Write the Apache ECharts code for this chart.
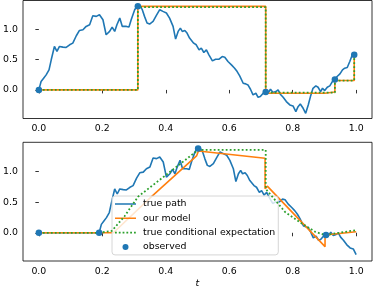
<!DOCTYPE html>
<html>
<head>
<meta charset="utf-8">
<script src="https://cdn.jsdelivr.net/npm/echarts@6/dist/echarts.min.js"></script>
<style>html,body{margin:0;padding:0;background:#fff}#c{width:374px;height:292px}</style>
</head>
<body>
<div id="c"></div>
<script>
// ---- data ----
const xTicks = [0, 0.2, 0.4, 0.6, 0.8, 1.0];
const yTicks = [0, 0.5, 1.0];
const seriesNames = ['true path', 'our model', 'true conditional expectation', 'observed'];

// top panel: true path
const topPathT = [0,0.007,0.015,0.023,0.032,0.039,0.049,0.057,0.065,0.076,0.086,0.097,0.107,0.118,0.128,0.139,0.149,0.160,0.170,0.181,0.191,0.202,0.212,0.223,0.231,0.239,0.246,0.255,0.263,0.276,0.284,0.291,0.302,0.309,0.318,0.326,0.333,0.341,0.349,0.360,0.370,0.381,0.391,0.402,0.412,0.423,0.431,0.439,0.446,0.452,0.460,0.467,0.475,0.481,0.488,0.496,0.505,0.512,0.520,0.528,0.536,0.547,0.557,0.568,0.578,0.586,0.596,0.607,0.617,0.625,0.633,0.644,0.652,0.659,0.667,0.675,0.684,0.691,0.698,0.707,0.715,0.722,0.730,0.738,0.747,0.754,0.761,0.770,0.780,0.791,0.801,0.810,0.817,0.824,0.833,0.841,0.849,0.856,0.864,0.873,0.880,0.888,0.894,0.901,0.909,0.917,0.925,0.933,0.940,0.949,0.957,0.964,0.972,0.980,0.988,0.996,1.0];
const topPathV = [0,0.137,0.192,0.247,0.330,0.495,0.714,0.632,0.714,0.703,0.698,0.742,0.769,0.890,0.978,0.989,1.044,1.071,1.220,1.209,1.236,1.154,0.907,0.962,1.033,0.962,1.071,1.181,1.044,1.044,1.033,1.154,1.319,1.374,1.385,1.319,1.209,1.099,1.082,1.126,1.220,1.319,1.291,1.264,1.181,1.044,0.835,0.962,1.016,0.962,0.978,0.934,0.852,0.879,0.769,0.742,0.659,0.687,0.615,0.659,0.577,0.478,0.505,0.505,0.549,0.538,0.467,0.412,0.357,0.302,0.231,0.110,0.099,0.082,0.011,-0.082,-0.055,-0.121,-0.110,-0.055,-0.027,-0.055,0.011,-0.044,-0.027,0,-0.071,-0.121,-0.192,-0.247,-0.264,-0.357,-0.275,-0.231,-0.302,-0.385,-0.247,-0.110,0.027,0.066,0.044,-0.027,0.027,-0.011,0.044,0.066,0.137,0.176,0.220,0.264,0.330,0.357,0.368,0.467,0.577,0.593,0.593];
// top panel: model / conditional expectation (forward-filled steps) and observations
const topModelT = [0, 0.312, 0.715, 0.901, 0.933, 0.994, 1.0];
const topModelV = [0, 1.374, -0.055, -0.033, 0.154, 0.55, 0.55];
const topCondT = [0, 0.312, 0.715, 0.933, 0.994, 1.0];
const topCondV = [0, 1.36, -0.044, 0.154, 0.56, 0.56];
const topObsT = [0, 0.312, 0.715, 0.933, 0.994];
const topObsV = [0, 1.374, -0.035, 0.17, 0.58];

// bottom panel: true path
const botPathT = [0,0.19,0.197,0.205,0.213,0.222,0.229,0.239,0.247,0.255,0.266,0.276,0.287,0.297,0.308,0.318,0.329,0.339,0.350,0.360,0.371,0.381,0.392,0.402,0.413,0.421,0.429,0.436,0.445,0.453,0.466,0.474,0.481,0.492,0.499,0.508,0.516,0.523,0.531,0.539,0.550,0.560,0.571,0.581,0.592,0.602,0.613,0.621,0.629,0.636,0.642,0.650,0.657,0.665,0.671,0.678,0.686,0.695,0.702,0.710,0.718,0.726,0.737,0.747,0.758,0.768,0.776,0.786,0.797,0.807,0.815,0.823,0.834,0.842,0.849,0.857,0.865,0.874,0.881,0.888,0.897,0.905,0.912,0.920,0.928,0.937,0.944,0.951,0.960,0.970,0.981,0.991,1.0];
const botPathV = [0,0,0.137,0.192,0.247,0.330,0.495,0.714,0.632,0.714,0.703,0.698,0.742,0.769,0.890,0.978,0.989,1.044,1.071,1.220,1.209,1.236,1.154,0.907,0.962,1.033,0.962,1.071,1.181,1.044,1.044,1.033,1.154,1.319,1.374,1.385,1.319,1.209,1.099,1.082,1.126,1.220,1.319,1.291,1.264,1.181,1.044,0.835,0.962,1.016,0.962,0.978,0.934,0.852,0.879,0.769,0.742,0.659,0.687,0.615,0.659,0.577,0.478,0.505,0.505,0.549,0.538,0.467,0.412,0.357,0.302,0.231,0.110,0.099,0.082,0.011,-0.082,-0.055,-0.121,-0.110,-0.055,-0.027,-0.055,0.011,-0.044,-0.027,0,-0.071,-0.121,-0.192,-0.247,-0.264,-0.357];
const botModelT = [0, 0.19, 0.235, 0.355, 0.497, 0.503, 0.713, 0.713, 0.72, 0.902, 0.902, 1.0];
const botModelV = [0, 0, 0, 0.59, 1.253, 1.334, 1.216, 0.716, 0.76, -0.226, -0.037, 0.016];
const botCondT = [0, 0.19, 0.23, 0.27, 0.313, 0.502, 0.715, 0.715, 0.776, 0.829, 0.871, 0.902, 1.0];
const botCondV = [0, 0, 0.03, 0.27, 0.59, 1.35, 1.35, 0.716, 0.339, 0.152, 0.016, -0.037, 0.044];
const botObsT = [0, 0.19, 0.502, 0.905];
const botObsV = [0, 0, 1.374, -0.035];

// ---- chart ----
const FONT = 'DejaVu Sans';
const FS = 9.4;
const BLUE = '#1f77b4', ORANGE = '#ff7f0e', GREEN = '#2ca02c';
const zip = (a, b) => a.map((t, i) => [t, b[i]]);

// legend icons (bounding box 21 x 6; tiny corner anchors keep the box)
const ANCH = 'M0,0h0.01v0.01h-0.01z M20.99,5.99h0.01v0.01h-0.01z ';
const ICON_LINE = 'path://' + ANCH + 'M0,2.25h21v1.5h-21z';
const ICON_DOT = 'path://' + ANCH + 'M0,2.1h1.8v1.8h-1.8z M3.8,2.1h1.8v1.8h-1.8z M7.6,2.1h1.8v1.8h-1.8z M11.4,2.1h1.8v1.8h-1.8z M15.2,2.1h1.8v1.8h-1.8z M19,2.1h1.8v1.8h-1.8z';

function xAxis(gi) {
  return {
    type: 'value', gridIndex: gi, min: -0.05, max: 1.05,
    axisLine: { show: false },
    splitLine: { show: false },
    axisTick: { show: true, length: 3.5, customValues: xTicks, lineStyle: { color: '#000', width: 0.8 } },
    axisLabel: { customValues: xTicks, margin: 6, color: '#000', fontFamily: FONT, fontSize: FS,
      formatter: v => v.toFixed(1) }
  };
}
function yAxis(gi, mn, mx) {
  return {
    type: 'value', gridIndex: gi, min: mn, max: mx,
    axisLine: { show: false },
    splitLine: { show: false },
    axisTick: { show: true, length: 3.5, customValues: yTicks, lineStyle: { color: '#000', width: 0.8 } },
    axisLabel: { customValues: yTicks, margin: 5, color: '#000', fontFamily: FONT, fontSize: FS,
      formatter: v => v.toFixed(1) }
  };
}
function panel(gi, pT, pV, mT, mV, mStep, cT, cV, cStep, oT, oV) {
  return [
    { name: seriesNames[0], type: 'line', xAxisIndex: gi, yAxisIndex: gi, data: zip(pT, pV),
      symbol: 'none', lineStyle: { color: BLUE, width: 1.6 }, itemStyle: { color: BLUE }, z: 2, animation: false },
    { name: seriesNames[1], type: 'line', xAxisIndex: gi, yAxisIndex: gi, data: zip(mT, mV), step: mStep,
      symbol: 'none', lineStyle: { color: ORANGE, width: 1.6 }, itemStyle: { color: ORANGE }, z: 3, animation: false },
    { name: seriesNames[2], type: 'line', xAxisIndex: gi, yAxisIndex: gi, data: zip(cT, cV), step: cStep,
      symbol: 'none', lineStyle: { color: GREEN, width: 1.8, type: [1.8, 2.2], cap: 'butt' }, itemStyle: { color: GREEN }, z: 4, animation: false },
    { name: seriesNames[3], type: 'scatter', xAxisIndex: gi, yAxisIndex: gi, data: zip(oT, oV),
      symbol: 'circle', symbolSize: 6.5, itemStyle: { color: BLUE, opacity: 1 }, z: 5, animation: false }
  ];
}

const chart = echarts.init(document.getElementById('c'), null, { renderer: 'canvas' });
chart.setOption({
  animation: false,
  backgroundColor: '#fff',
  textStyle: { fontFamily: FONT },
  grid: [
    { left: 23, top: 0.5, width: 349, height: 118, show: true, borderColor: '#000', borderWidth: 0.8, backgroundColor: 'transparent' },
    { left: 23, top: 142.3, width: 349, height: 118.7, show: true, borderColor: '#000', borderWidth: 0.8, backgroundColor: 'transparent' }
  ],
  xAxis: [xAxis(0), xAxis(1)],
  yAxis: [yAxis(0, -0.47, 1.47), yAxis(1, -0.46, 1.475)],
  legend: {
    data: [
      { name: seriesNames[0], icon: ICON_LINE, itemStyle: { color: BLUE, borderWidth: 0 } },
      { name: seriesNames[1], icon: ICON_LINE, itemStyle: { color: ORANGE, borderWidth: 0 } },
      { name: seriesNames[2], icon: ICON_DOT, itemStyle: { color: GREEN, borderWidth: 0 } },
      { name: seriesNames[3], icon: 'circle', itemStyle: { color: BLUE, borderWidth: 0 } }
    ],
    orient: 'vertical', left: 112, top: 196,
    itemWidth: 21, itemHeight: 6, itemGap: 4.3,
    padding: [3, 3, 3, 3],
    itemStyle: { borderWidth: 0 },
    lineStyle: { width: 0 },
    backgroundColor: 'rgba(255,255,255,0.8)', borderColor: '#cccccc', borderWidth: 0.8, borderRadius: 3,
    textStyle: { fontFamily: FONT, fontSize: FS, color: '#000', lineHeight: 10, padding: [0, 0, 0, 2] },
    selectedMode: false
  },
  graphic: [
    { type: 'text', left: 195.5, top: 279, style: { text: 't', fontFamily: FONT, fontSize: FS, fontStyle: 'italic', fill: '#000' } }
  ],
  series: [].concat(
    panel(0, topPathT, topPathV, topModelT, topModelV, 'end', topCondT, topCondV, 'end', topObsT, topObsV),
    panel(1, botPathT, botPathV, botModelT, botModelV, false, botCondT, botCondV, false, botObsT, botObsV)
  )
});
</script>
</body>
</html>
